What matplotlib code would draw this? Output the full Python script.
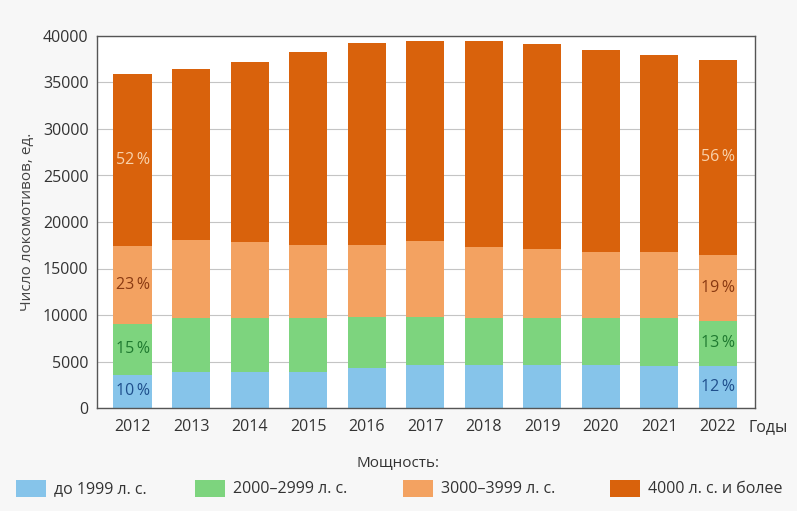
import numpy as np
import matplotlib.pyplot as plt
from matplotlib.patches import Rectangle

plt.rcParams['font.family'] = ['Open Sans', 'DejaVu Sans']

# Locomotive fleet by power class, units
years = ['2012', '2013', '2014', '2015', '2016', '2017', '2018', '2019', '2020', '2021', '2022']
upto_1999 = [3600, 3900, 3850, 3850, 4250, 4600, 4600, 4600, 4600, 4500, 4500]
hp_2000_2999 = [5450, 5800, 5850, 5850, 5550, 5200, 5100, 5100, 5100, 5200, 4900]
hp_3000_3999 = [8350, 8400, 8100, 7800, 7750, 8200, 7600, 7400, 7100, 7100, 7100]
hp_4000_plus = [18500, 18400, 19400, 20800, 21750, 21500, 22200, 22000, 21700, 21200, 20900]

series_names = ['до 1999 л. с.', '2000–2999 л. с.', '3000–3999 л. с.', '4000 л. с. и более']
colors = ['#86c4ea', '#7dd47e', '#f3a261', '#d9620c']
pct_colors = ['#1f4f8c', '#1f7a30', '#8a3a12', '#f9d2ab']
labelled_years = ['2012', '2022']

fig = plt.figure(figsize=(7.97, 5.11), dpi=100, facecolor='#f7f7f7')
ax = fig.add_axes([97 / 797, 1 - 408 / 511, (755 - 97) / 797, (408 - 36) / 511])
ax.set_facecolor('white')

x = np.arange(len(years))
stack = [upto_1999, hp_2000_2999, hp_3000_3999, hp_4000_plus]
totals = np.sum(stack, axis=0)
bottom = np.zeros(len(years))
for vals, col, pcol in zip(stack, colors, pct_colors):
    vals = np.array(vals, dtype=float)
    ax.bar(x, vals, bottom=bottom, width=0.65, color=col, zorder=2)
    for yr in labelled_years:
        i = years.index(yr)
        pct = round(vals[i] / totals[i] * 100)
        ax.text(x[i], bottom[i] + vals[i] / 2, f'{pct}\u2009%', ha='center', va='center',
                fontsize=11.5, color=pcol, zorder=3)
    bottom += vals

ax.set_xlim(-0.607, 10.64)
ax.set_ylim(0, 40000)
ax.set_yticks(np.arange(0, 40001, 5000))
ax.set_xticks(x)
ax.set_xticklabels(years)
ax.tick_params(axis='both', length=0, labelsize=11.5, colors='#333333')
ax.tick_params(axis='x', pad=8)
ax.tick_params(axis='y', pad=6)
ax.yaxis.grid(True, color='#c4c4c4', linewidth=0.8, zorder=0)
for sp in ax.spines.values():
    sp.set_color('#555555')
    sp.set_linewidth(1.0)

ax.set_ylabel('Число локомотивов, ед.', fontsize=11, color='#444444', labelpad=6)
fig.text(748 / 797, 1 - 427 / 511, 'Годы', fontsize=11.5, color='#333333', ha='left', va='center')

# Legend row at the bottom
fig.text(398 / 797, 1 - 463 / 511, 'Мощность:', fontsize=11, color='#333333', ha='center', va='center')
patch_x = [16, 195, 403, 610]
for px, col, name in zip(patch_x, colors, series_names):
    fig.add_artist(Rectangle((px / 797, 1 - 497 / 511), 30 / 797, 17 / 511,
                             transform=fig.transFigure, facecolor=col, edgecolor='none'))
    fig.text((px + 38) / 797, 1 - 489 / 511, name, fontsize=11.5, color='#333333',
             ha='left', va='center')

fig.savefig('out.png', dpi=100, facecolor=fig.get_facecolor())
